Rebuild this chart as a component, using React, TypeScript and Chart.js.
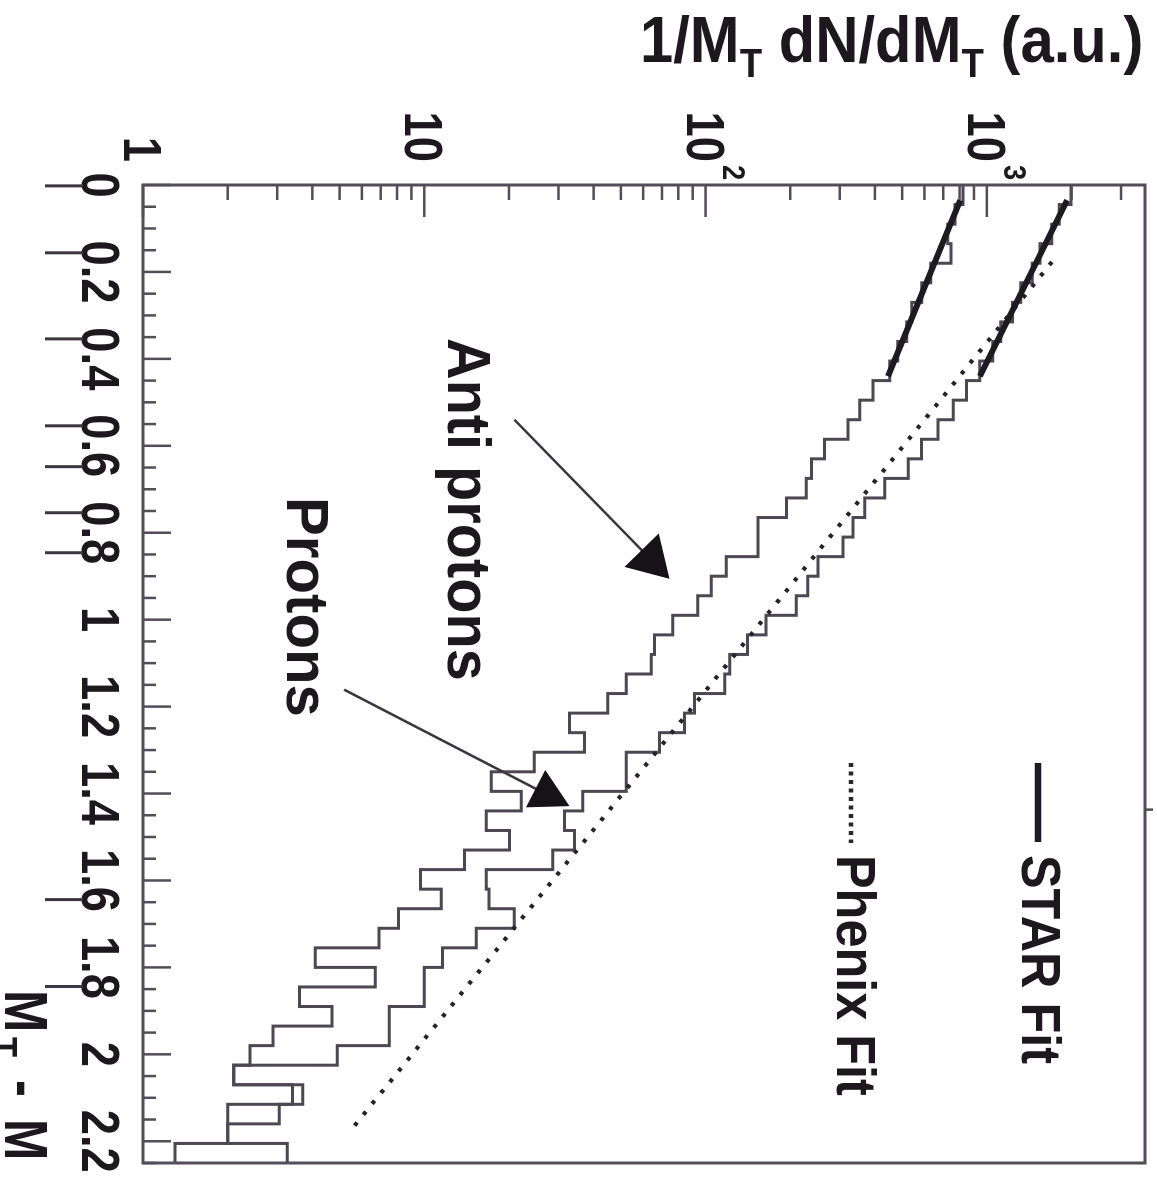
import React, { useEffect, useRef } from "react";
import { Chart, registerables } from "chart.js";

Chart.register(...registerables);

// ---------- data ----------
const BIN_WIDTH = 0.045; // bin width in MT - M
const X_MIN = 0;
const X_MAX = 2.25;
const Y_MIN = 1;
const Y_MAX = 3650;

const antiProtonCounts = [
  822, 770, 726, 745, 632, 587, 541, 519, 482, 452,
  394, 353, 321, 265, 238, 228, 194, 153.5, 153.5, 118.5,
  104.8, 93.9, 76.5, 65.8, 64.1, 52.2, 44.9, 32.8, 37.1, 24.6,
  17.3, 22.1, 16.6, 20.1, 13.9, 9.7, 11.5, 8.1, 6.9, 4.1,
  6.7, 3.6, 4.7, 2.9, 2.4, 2.1, 3.4, 2.0, 2.0, 1.3,
];

const protonCounts = [
  1990, 1810, 1700, 1545, 1450, 1320, 1235, 1120, 1050, 944,
  847, 759, 671, 586, 525, 434, 368, 334, 308, 251,
  231, 210, 164, 141, 122, 117, 91.4, 84.2, 68.6, 52.2,
  52.2, 36.6, 31.5, 34.2, 28.6, 16.6, 17.0, 20.9, 15.3, 11.6,
  10.0, 10.0, 7.5, 7.5, 4.9, 2.1, 3.7, 3.05, 2.0, 3.26,
];

const starFitMt = [0.035, 0.44];
const starFitAnti = [805, 445];
const starFitProton = [1930, 945];

const phenixFitMt = [0.177, 2.18];
const phenixFitProton = [1703, 5.4];

const xMajorTicks = [0, 0.2, 0.4, 0.6, 0.8, 1, 1.2, 1.4, 1.6, 1.8, 2, 2.2];
const xTickLabels = ["0", "0.2", "0.4", "0.6", "0.8", "1", "1.2", "1.4", "1.6", "1.8", "2", "2.2"];
const xMinorStep = 0.05;

const yDecades = [1, 10, 100, 1000];
const yDecadeBase = ["1", "10", "10", "10"];
const yDecadeExp = ["", "", "2", "3"];
const yMinorMultipliers = [2, 3, 4, 5, 6, 7, 8, 9];

// scan marks next to some x labels (in MT - M units)
const labelMarks = [0.002, 0.156, 0.354, 0.554, 0.648, 0.754, 0.846, 1.644, 1.844];

// arrows: [tail x, tail y, tip x, tip y] in data units
const antiArrow = [0.54, 20.9, 0.906, 74.5];
const protonArrow = [1.161, 5.19, 1.429, 32.8];

// ---------- drawing ----------
const W = 1177; // canvas width  (becomes page height after rotation)
const H = 1157; // canvas height (becomes page width after rotation)

const LINE = "#4c4752";
const FRAME = "#524d58";
const INK = "#1c181d";
const FONT = '"Liberation Sans", Arial, Helvetica, sans-serif';

function txt(ctx: CanvasRenderingContext2D, s: string, x: number, y: number, size: number, hs: number, align: string = "left") {
  ctx.save();
  ctx.font = `bold ${size}px ${FONT}`;
  const w = ctx.measureText(s).width * hs;
  let x0 = x;
  if (align === "right") x0 = x - w;
  else if (align === "center") x0 = x - w / 2;
  ctx.translate(x0, y);
  ctx.scale(hs, 1);
  ctx.textAlign = "left";
  ctx.textBaseline = "alphabetic";
  ctx.fillStyle = INK;
  ctx.fillText(s, 0, 0);
  ctx.restore();
  return w;
}

function arrow(ctx: CanvasRenderingContext2D, x1: number, y1: number, x2: number, y2: number, len: number, half: number) {
  const ang = Math.atan2(y2 - y1, x2 - x1);
  const bx = x2 - len * Math.cos(ang);
  const by = y2 - len * Math.sin(ang);
  ctx.save();
  ctx.strokeStyle = "#3a353f";
  ctx.lineWidth = 2.5;
  ctx.beginPath();
  ctx.moveTo(x1, y1);
  ctx.lineTo(bx + 2 * Math.cos(ang), by + 2 * Math.sin(ang));
  ctx.stroke();
  ctx.fillStyle = "#161217";
  ctx.beginPath();
  ctx.moveTo(x2, y2);
  ctx.lineTo(bx + half * Math.sin(ang), by - half * Math.cos(ang));
  ctx.lineTo(bx - half * Math.sin(ang), by + half * Math.cos(ang));
  ctx.closePath();
  ctx.fill();
  ctx.restore();
}

const decorPlugin = {
  id: "decor",
  afterDatasetsDraw(chart: any) {
    const ctx: CanvasRenderingContext2D = chart.ctx;
    const ca = chart.chartArea;
    const xs = chart.scales.x;
    const ys = chart.scales.y;
    ctx.save();

    // frame
    ctx.strokeStyle = FRAME;
    ctx.lineWidth = 3;
    ctx.strokeRect(ca.left, ca.top, ca.right - ca.left, ca.bottom - ca.top);

    // x ticks (inward)
    ctx.lineWidth = 2.5;
    ctx.strokeStyle = FRAME;
    const nMinor = Math.round((X_MAX - X_MIN) / xMinorStep);
    for (let i = 0; i <= nMinor; i++) {
      const v = X_MIN + i * xMinorStep;
      const isMajor = xMajorTicks.some((m) => Math.abs(m - v) < 1e-6);
      const px = xs.getPixelForValue(v);
      ctx.beginPath();
      ctx.moveTo(px, ca.bottom);
      ctx.lineTo(px, ca.bottom - (isMajor ? 28 : 13));
      ctx.stroke();
    }
    // y ticks (inward)
    yDecades.forEach((d) => {
      const py = ys.getPixelForValue(d);
      ctx.beginPath();
      ctx.moveTo(ca.left, py);
      ctx.lineTo(ca.left + 32, py);
      ctx.stroke();
      yMinorMultipliers.forEach((m) => {
        const v = d * m;
        if (v > Y_MAX) return;
        const p = ys.getPixelForValue(v);
        ctx.beginPath();
        ctx.moveTo(ca.left, p);
        ctx.lineTo(ca.left + 15, p);
        ctx.stroke();
      });
    });
    // small outer tick on the far border
    const tpx = xs.getPixelForValue(1.437);
    ctx.beginPath();
    ctx.moveTo(tpx, ca.top);
    ctx.lineTo(tpx, ca.top - 8);
    ctx.stroke();

    // x tick labels
    xMajorTicks.forEach((v, i) => {
      txt(ctx, xTickLabels[i], xs.getPixelForValue(v), 1075, 53, 0.855, "center");
    });
    // scan marks beside labels
    ctx.strokeStyle = "#3a353f";
    ctx.lineWidth = 3;
    labelMarks.forEach((v) => {
      const px = xs.getPixelForValue(v);
      ctx.beginPath();
      ctx.moveTo(px, 1074);
      ctx.lineTo(px, 1112);
      ctx.stroke();
    });

    // y tick labels
    yDecades.forEach((d, i) => {
      const py = ys.getPixelForValue(d);
      txt(ctx, yDecadeBase[i], 162, py + 19, 53, 0.855, "right");
      if (yDecadeExp[i]) txt(ctx, yDecadeExp[i], 165, py - 17, 32, 0.855, "left");
    });

    // y axis title (rotated)
    ctx.save();
    ctx.translate(62, 517);
    ctx.rotate(-Math.PI / 2);
    let p = 0;
    p += txt(ctx, "1/M", p, 0, 65, 0.92);
    p += txt(ctx, "T", p, 15, 40, 0.92);
    p += txt(ctx, " dN/dM", p, 0, 65, 0.92);
    p += txt(ctx, "T", p, 15, 40, 0.92);
    txt(ctx, " (a.u.)", p, 0, 65, 0.92);
    ctx.restore();

    // x axis title
    txt(ctx, "M", 990, 1152, 62, 0.82);
    txt(ctx, "T", 1037, 1168, 40, 0.82);
    txt(ctx, "-", 1080, 1152, 62, 0.82);
    txt(ctx, "M", 1119, 1152, 62, 0.8);

    // legend
    ctx.lineWidth = 6.5;
    ctx.strokeStyle = "#1e1a21";
    ctx.beginPath();
    ctx.moveTo(763, 119);
    ctx.lineTo(842, 119);
    ctx.stroke();
    txt(ctx, "STAR Fit", 855, 135, 56, 0.9);
    ctx.lineWidth = 4.5;
    ctx.setLineDash([4, 4.5]);
    ctx.strokeStyle = "#2a262e";
    ctx.beginPath();
    ctx.moveTo(763, 306);
    ctx.lineTo(843, 306);
    ctx.stroke();
    ctx.setLineDash([]);
    txt(ctx, "Phenix Fit", 855, 320, 56, 0.9);

    // annotations
    txt(ctx, "Anti protons", 338, 709, 62, 0.93);
    txt(ctx, "Protons", 497, 870, 60, 0.97);
    arrow(ctx,
      xs.getPixelForValue(antiArrow[0]), ys.getPixelForValue(antiArrow[1]),
      xs.getPixelForValue(antiArrow[2]), ys.getPixelForValue(antiArrow[3]), 40, 24);
    arrow(ctx,
      xs.getPixelForValue(protonArrow[0]), ys.getPixelForValue(protonArrow[1]),
      xs.getPixelForValue(protonArrow[2]), ys.getPixelForValue(protonArrow[3]), 38, 21);

    ctx.restore();
  },
};

function histPoints(counts: number[]) {
  const pts = counts.map((v, i) => ({ x: i * BIN_WIDTH, y: v }));
  pts.push({ x: counts.length * BIN_WIDTH, y: counts[counts.length - 1] });
  return pts;
}

function pairPoints(xs: number[], ys: number[]) {
  return xs.map((x, i) => ({ x, y: ys[i] }));
}

export default function App() {
  const ref = useRef<HTMLCanvasElement | null>(null);

  useEffect(() => {
    if (!ref.current) return;
    const chart = new Chart(ref.current, {
      type: "line",
      data: {
        datasets: [
          {
            label: "STAR Fit (anti protons)",
            data: pairPoints(starFitMt, starFitAnti),
            borderColor: "#1e1a21",
            borderWidth: 6,
            pointRadius: 0,
            fill: false,
          },
          {
            label: "STAR Fit (protons)",
            data: pairPoints(starFitMt, starFitProton),
            borderColor: "#1e1a21",
            borderWidth: 6,
            pointRadius: 0,
            fill: false,
          },
          {
            label: "Phenix Fit",
            data: pairPoints(phenixFitMt, phenixFitProton),
            borderColor: "#26222b",
            borderWidth: 4.2,
            borderDash: [4, 10],
            borderCapStyle: "butt",
            pointRadius: 0,
            fill: false,
          },
          {
            label: "Anti protons",
            data: histPoints(antiProtonCounts),
            borderColor: LINE,
            borderWidth: 3,
            stepped: "before",
            pointRadius: 0,
            fill: false,
          },
          {
            label: "Protons",
            data: histPoints(protonCounts),
            borderColor: LINE,
            borderWidth: 3,
            stepped: "before",
            pointRadius: 0,
            fill: false,
          },
        ],
      },
      options: {
        animation: false,
        responsive: false,
        devicePixelRatio: 1,
        layout: { padding: { left: 185, right: 14, top: 12, bottom: 143 } },
        plugins: { legend: { display: false }, tooltip: { enabled: false } },
        scales: {
          x: { type: "linear", min: X_MIN, max: X_MAX, display: false },
          y: { type: "logarithmic", min: Y_MIN, max: Y_MAX, display: false },
        },
      },
      plugins: [decorPlugin],
    } as any);
    return () => chart.destroy();
  }, []);

  return (
    <div
      style={{
        position: "fixed",
        left: 0,
        top: 0,
        width: H,
        height: W,
        overflow: "hidden",
        background: "#ffffff",
      }}
    >
      <canvas
        ref={ref}
        width={W}
        height={H}
        style={{
          position: "absolute",
          left: 0,
          top: 0,
          width: W + "px",
          height: H + "px",
          transformOrigin: "0 0",
          transform: `translate(${H}px, 0px) rotate(90deg)`,
        }}
      />
    </div>
  );
}
